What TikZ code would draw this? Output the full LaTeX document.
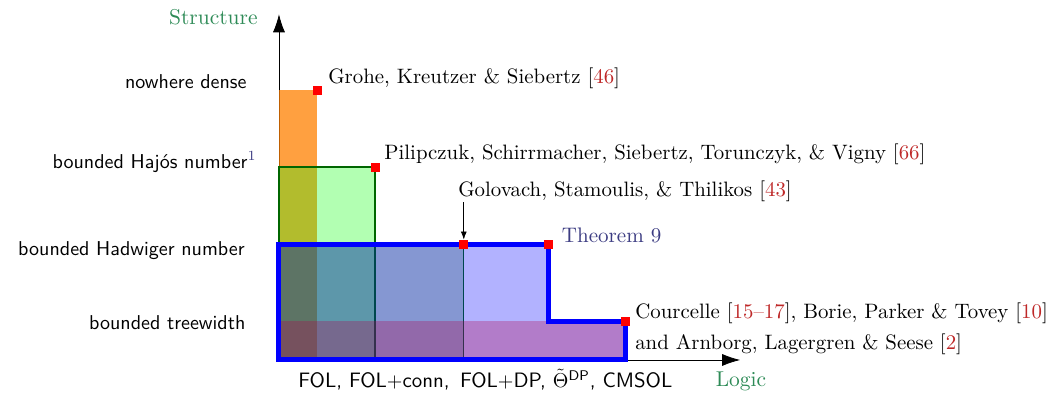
\documentclass[tikz,border=0pt]{standalone}
\usepackage{xcolor}
\usepackage{amsmath}
\usepackage{amssymb}
\usepackage{tikz}
\usetikzlibrary{arrows.meta, positioning}

\definecolor{axisgreen}{RGB}{46,139,87}
\definecolor{thmblue}{RGB}{60,60,130}
\definecolor{citered}{RGB}{190,40,40}
\newcommand{\cit}[1]{[\textcolor{citered}{#1}]}

\begin{document}
\begin{tikzpicture}  [
        x = 1.35cm, y = 1.35cm,
        axis/.style = {-{Latex[length=9pt, width=6pt]}},
        axislabel/.style = {text=axisgreen, inner sep=0pt, anchor=base, font=\fontsize{10.7}{12}\selectfont},
        struct/.style = {font=\sffamily, inner sep=0pt, anchor=base east},
        cite/.style = {inner sep=0pt, anchor=base west, font=\fontsize{10.4}{12}\selectfont},
        redsq/.style = {rectangle, fill=red, inner sep=0pt, minimum size=4.5pt},
        region/.style = {fill opacity=0.3}
    ]
    \useasboundingbox (-3.623,-0.468) rectangle (10,4.675);

    \coordinate (O)    at (0,0);
    \coordinate (ytop) at (0,4.49);
    \coordinate (xend) at (5.99,0);
    \draw[axis] (O) -- (ytop);
    \draw[axis] (O) -- (xend);

    \node[axislabel, anchor=base east] (structure) at (-0.273,4.36) {Structure};
    \node[axislabel]                   (logic)     at (6.0,-0.35)   {Logic};

    % classes
    \node[struct] (nd)    at (-0.416,3.52) {nowhere dense};
    \node[struct] (hajos) at (-0.286,2.49) {bounded Hajós number$^{\textcolor{thmblue}{1}}$};
    \node[struct] (hadw)  at (-0.44,1.36)  {bounded Hadwiger number};
    \node[struct] (tw)    at (-0.43,0.39)  {bounded treewidth};

    \node[font=\fontsize{10.4}{12}\sffamily, inner sep=0pt, anchor=base west] (logics) at (0.247,-0.36)
        {FOL, FOL$+$conn,\, FOL$+$DP, $\tilde{\Theta}^{\mathsf{DP}}$, CMSOL};

    % regions
    \fill[region, fill=orange, fill opacity=0.75] (O) rectangle (0.5,3.5);
    \draw[region, fill=green, draw=green!40!black, line width=1pt] (O) rectangle (1.25,2.5);
    \draw[region, fill=green!40!black, draw=green!40!black, fill opacity=0.25] (O) rectangle (2.4,1.5);
    \fill[region, fill=red] (O) rectangle (4.5,0.5);
    \draw[region, fill=blue, draw=blue, line width=2.5pt]
        (O) -- (0,1.5) -- (3.5,1.5) -- (3.5,0.5) -- (4.5,0.5) -- (4.5,0) -- cycle;

    \node[redsq] (sq1) at (0.5,3.5)  {};
    \node[redsq] (sq2) at (1.25,2.5) {};
    \node[redsq] (sq3) at (2.4,1.5)  {};
    \node[redsq] (sq4) at (3.5,1.5)  {};
    \node[redsq] (sq5) at (4.5,0.5)  {};

    % results
    \node[cite] (grohe) at ([shift={(5.2pt,3.3pt)}]sq1.center)
        {Grohe, Kreutzer \& Siebertz \cit{46}};
    \node[cite] (pili)  at ([shift={(4.4pt,4.2pt)}]sq2.center)
        {Pilipczuk, Schirrmacher, Siebertz, Torunczyk, \& Vigny \cit{66}};
    \node[cite] (golo)  at ([shift={(-2.9pt,23.8pt)}]sq3.center)
        {Golovach, Stamoulis, \& Thilikos \cit{43}};
    \node[cite, text=thmblue, font=\fontsize{10.5}{12}\selectfont] (thm) at ([shift={(6.5pt,1pt)}]sq4.center) {Theorem 9};
    \node[cite] (cour1) at ([shift={(4.7pt,1.7pt)}]sq5.center)
        {Courcelle \cit{15--17}, Borie, Parker \& Tovey \cit{10}};
    \node[cite] (cour2) at ([yshift=-15.5pt]cour1.base west)
        {and Arnborg, Lagergren \& Seese \cit{2}};

    \draw[-{Latex[length=4pt, width=3pt]}] (sq3 |- golo.south) -- (sq3.north);

\end{tikzpicture}
\end{document}
